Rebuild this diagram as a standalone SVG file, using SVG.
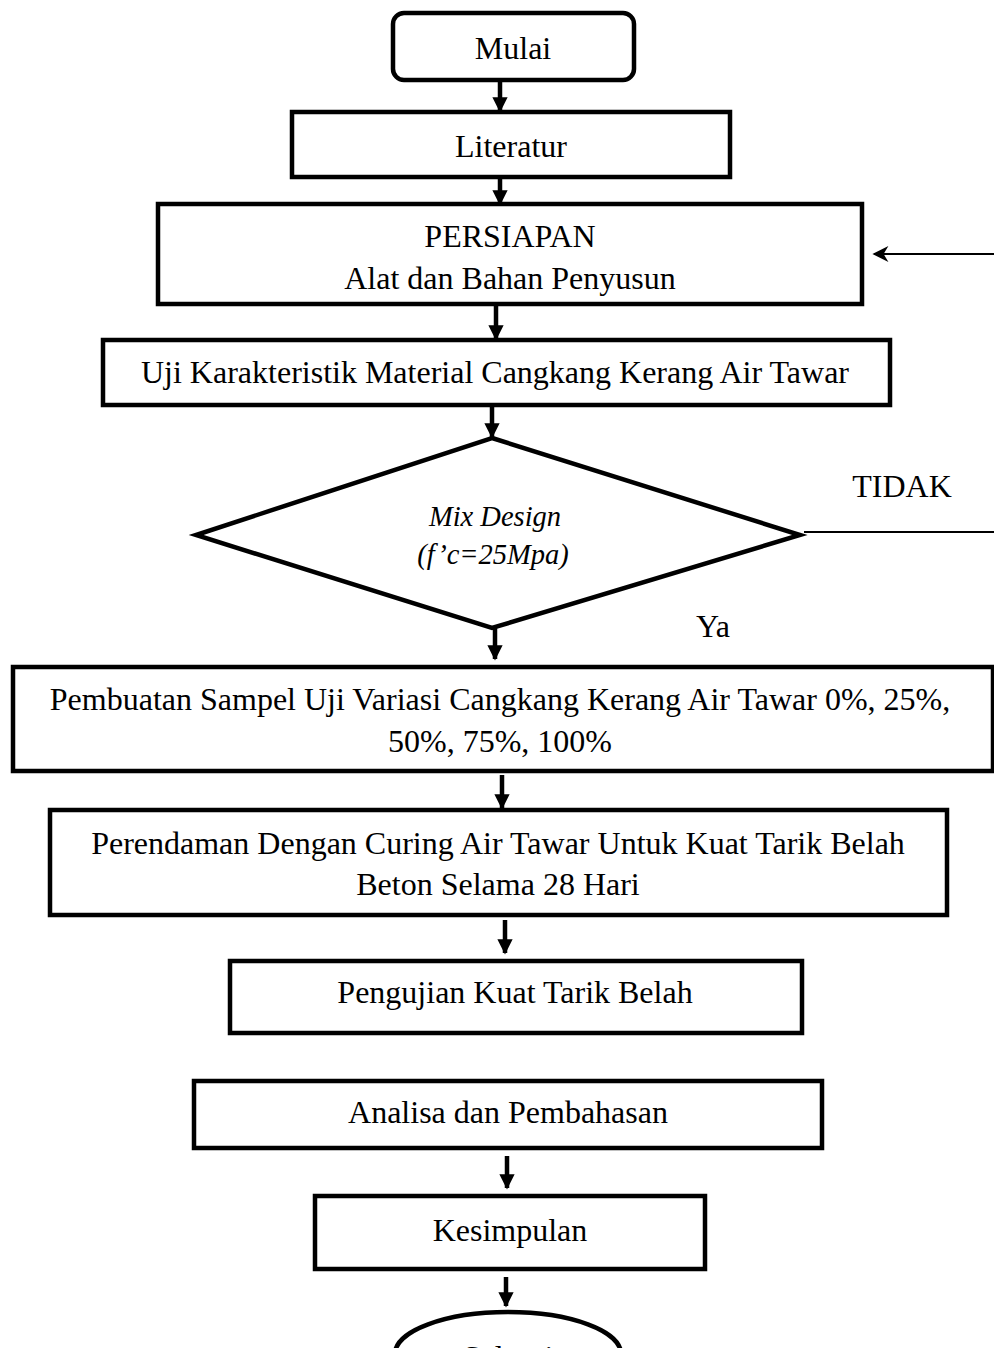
<svg xmlns="http://www.w3.org/2000/svg" width="994" height="1348" viewBox="0 0 994 1348">
<defs>
<marker id="ah" viewBox="0 0 10 10" refX="9" refY="5" markerWidth="3.4" markerHeight="3.4" orient="auto" markerUnits="strokeWidth">
<path d="M0,0 L10,5 L0,10 z" fill="#000"/>
</marker>
<marker id="ah2" viewBox="0 0 10 10" refX="9" refY="5" markerWidth="9" markerHeight="8" orient="auto" markerUnits="strokeWidth">
<path d="M0,0 L10,5 L0,10 L3,5 z" fill="#000"/>
</marker>
</defs>
<style>
.box{fill:#fff;stroke:#000;stroke-width:4.5}
.t{font-family:"Liberation Serif","Times New Roman",serif;font-size:32px;fill:#000;text-anchor:middle}
.ti{font-family:"Liberation Serif","Times New Roman",serif;font-size:28.5px;font-style:italic;fill:#000;text-anchor:middle}
.ar{stroke:#000;stroke-width:4.5;fill:none;marker-end:url(#ah)}
.ln{stroke:#000;stroke-width:2;fill:none}
</style>
<rect width="994" height="1348" fill="#fff"/>
<g id="connectors">
<line class="ar" x1="500" y1="80" x2="500" y2="111"/>
<line class="ar" x1="500" y1="177" x2="500" y2="204"/>
<line class="ar" x1="496" y1="304" x2="496" y2="339"/>
<line class="ar" x1="492" y1="405" x2="492" y2="437"/>
<line class="ar" x1="495" y1="628" x2="495" y2="659"/>
<line class="ar" x1="502" y1="775" x2="502" y2="808"/>
<line class="ar" x1="505" y1="920" x2="505" y2="953"/>
<line class="ar" x1="507" y1="1156" x2="507" y2="1188"/>
<line class="ar" x1="506" y1="1277" x2="506" y2="1306"/>
<line class="ln" x1="994" y1="254" x2="874" y2="254" marker-end="url(#ah2)"/>
<line class="ln" x1="804" y1="532" x2="994" y2="532"/>
</g>
<g id="mulai">
<rect class="box" x="393" y="13" width="241" height="67" rx="11"/>
<text class="t" x="513" y="59">Mulai</text>
</g>
<g id="literatur">
<rect class="box" x="292" y="112" width="438" height="65"/>
<text class="t" x="511" y="157">Literatur</text>
</g>
<g id="persiapan">
<rect class="box" x="158" y="204" width="704" height="100"/>
<text class="t" x="510" y="247">PERSIAPAN</text>
<text class="t" x="510" y="289">Alat dan Bahan Penyusun</text>
</g>
<g id="uji">
<rect class="box" x="103" y="340" width="787" height="65"/>
<text class="t" x="495" y="383">Uji Karakteristik Material Cangkang Kerang Air Tawar</text>
</g>
<g id="mixdesign">
<polygon class="box" points="492,438 800,535 492,628 196,535"/>
<text class="ti" x="495" y="526">Mix Design</text>
<text class="ti" x="493" y="564">(f’c=25Mpa)</text>
</g>
<text class="t" x="902" y="497">TIDAK</text>
<text class="t" x="713" y="637">Ya</text>
<g id="pembuatan">
<rect class="box" x="13" y="667" width="980" height="104"/>
<text class="t" x="500" y="710">Pembuatan Sampel Uji Variasi Cangkang Kerang Air Tawar 0%, 25%,</text>
<text class="t" x="500" y="752">50%, 75%, 100%</text>
</g>
<g id="perendaman">
<rect class="box" x="50" y="810" width="897" height="105"/>
<text class="t" x="498" y="854">Perendaman Dengan Curing Air Tawar Untuk Kuat Tarik Belah</text>
<text class="t" x="498" y="895">Beton Selama 28 Hari</text>
</g>
<g id="pengujian">
<rect class="box" x="230" y="961" width="572" height="72"/>
<text class="t" x="515" y="1003">Pengujian Kuat Tarik Belah</text>
</g>
<g id="analisa">
<rect class="box" x="194" y="1081" width="628" height="67"/>
<text class="t" x="508" y="1123">Analisa dan Pembahasan</text>
</g>
<g id="kesimpulan">
<rect class="box" x="315" y="1196" width="390" height="73"/>
<text class="t" x="510" y="1241">Kesimpulan</text>
</g>
<g id="selesai">
<ellipse class="box" cx="508" cy="1354" rx="113" ry="42"/>
<text class="t" x="508" y="1368">Selesai</text>
</g>
</svg>
